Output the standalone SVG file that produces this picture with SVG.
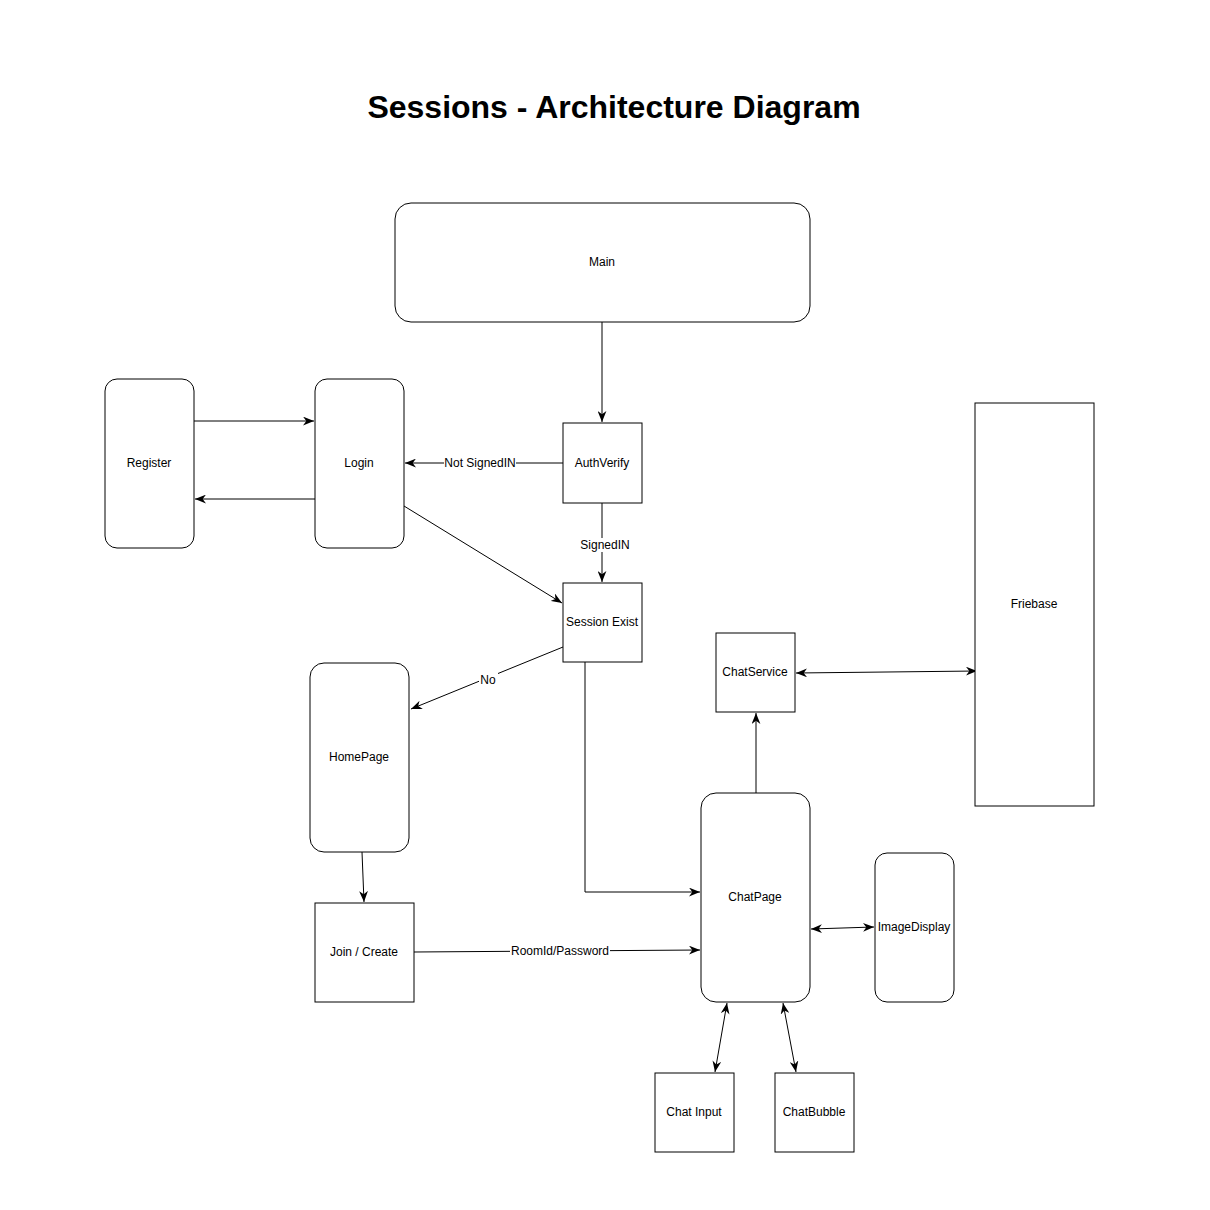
<svg xmlns="http://www.w3.org/2000/svg" width="1210" height="1210" viewBox="0 0 1210 1210">
<style>
.n{fill:#fff;stroke:#000;stroke-width:1}
.t{font-family:"Liberation Sans",Arial,sans-serif;font-size:12px;fill:#000;text-anchor:middle;dominant-baseline:central}
.c{fill:none;stroke:#000;stroke-width:1}
.lb{fill:#fff}
</style>
<defs>
<marker id="a" viewBox="0 0 10 8" refX="10" refY="4" markerWidth="11" markerHeight="9" markerUnits="userSpaceOnUse" orient="auto-start-reverse">
<path d="M0,0 L10,4 L0,8 L3,4 z" fill="#000"/>
</marker>
</defs>
<rect width="1210" height="1210" fill="#fff"/>
<text x="614" y="107" font-family="'Liberation Sans',Arial,sans-serif" font-size="32" font-weight="bold" text-anchor="middle" dominant-baseline="central">Sessions - Architecture Diagram</text>

<g id="connectors">
<path class="c" d="M602,322 L602,422" marker-end="url(#a)"/>
<path class="c" d="M194,421 L314,421" marker-end="url(#a)"/>
<path class="c" d="M315,499 L195,499" marker-end="url(#a)"/>
<path class="c" d="M563,463 L405,463" marker-end="url(#a)"/>
<rect class="lb" x="444" y="456" width="72" height="14"/>
<text class="t" x="480" y="463">Not SignedIN</text>
<path class="c" d="M602,503 L602,582" marker-end="url(#a)"/>
<rect class="lb" x="579" y="538" width="52" height="14"/>
<text class="t" x="605" y="545">SignedIN</text>
<path class="c" d="M404,506 L562,603" marker-end="url(#a)"/>
<path class="c" d="M563,647 L411,709" marker-end="url(#a)"/>
<rect class="lb" x="479" y="673" width="19" height="14"/>
<text class="t" x="488" y="680">No</text>
<path class="c" d="M585,662 L585,892 L700,892" marker-end="url(#a)"/>
<path class="c" d="M362,852 L364,902" marker-end="url(#a)"/>
<path class="c" d="M414,952 L700,950" marker-end="url(#a)"/>
<rect class="lb" x="510" y="944" width="100" height="14"/>
<text class="t" x="560" y="951">RoomId/Password</text>
<path class="c" d="M756,793 L756,713" marker-end="url(#a)"/>
<path class="c" d="M796,673 L977,671" marker-start="url(#a)" marker-end="url(#a)"/>
<path class="c" d="M811,929 L874,927" marker-start="url(#a)" marker-end="url(#a)"/>
<path class="c" d="M727,1003 L715,1072" marker-start="url(#a)" marker-end="url(#a)"/>
<path class="c" d="M783,1003 L796,1072" marker-start="url(#a)" marker-end="url(#a)"/>
</g>

<g id="main"><rect class="n" x="395" y="203" width="415" height="119" rx="16"/><text class="t" x="602" y="262">Main</text></g>
<g id="authverify"><rect class="n" x="563" y="423" width="79" height="80"/><text class="t" x="602" y="463">AuthVerify</text></g>
<g id="register"><rect class="n" x="105" y="379" width="89" height="169" rx="12"/><text class="t" x="149" y="463">Register</text></g>
<g id="login"><rect class="n" x="315" y="379" width="89" height="169" rx="12"/><text class="t" x="359" y="463">Login</text></g>
<g id="session-exist"><rect class="n" x="563" y="583" width="79" height="79"/><text class="t" x="602" y="622">Session Exist</text></g>
<g id="homepage"><rect class="n" x="310" y="663" width="99" height="189" rx="14"/><text class="t" x="359" y="757">HomePage</text></g>
<g id="join-create"><rect class="n" x="315" y="903" width="99" height="99"/><text class="t" x="364" y="952">Join / Create</text></g>
<g id="chatservice"><rect class="n" x="716" y="633" width="79" height="79"/><text class="t" x="755" y="672">ChatService</text></g>
<g id="friebase"><rect class="n" x="975" y="403" width="119" height="403"/><text class="t" x="1034" y="604">Friebase</text></g>
<g id="chatpage"><rect class="n" x="701" y="793" width="109" height="209" rx="15"/><text class="t" x="755" y="897">ChatPage</text></g>
<g id="imagedisplay"><rect class="n" x="875" y="853" width="79" height="149" rx="12"/><text class="t" x="914" y="927">ImageDisplay</text></g>
<g id="chat-input"><rect class="n" x="655" y="1073" width="79" height="79"/><text class="t" x="694" y="1112">Chat Input</text></g>
<g id="chatbubble"><rect class="n" x="775" y="1073" width="79" height="79"/><text class="t" x="814" y="1112">ChatBubble</text></g>
</svg>
